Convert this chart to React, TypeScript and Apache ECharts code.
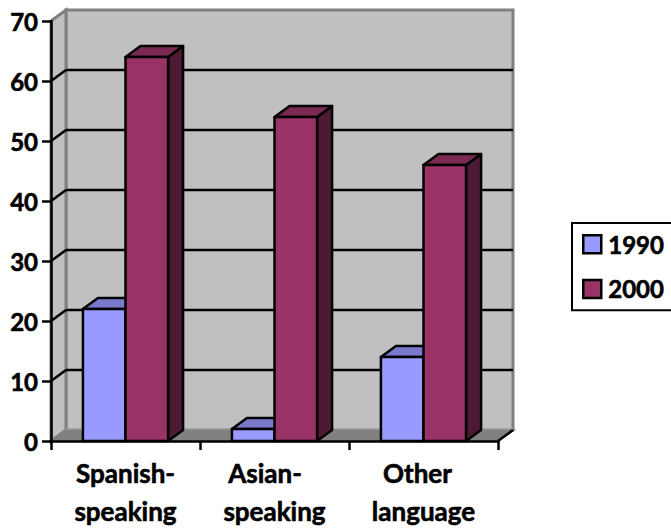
import React, { useEffect, useRef } from "react";
import * as echarts from "echarts";

const categories = ["Spanish-\nspeaking", "Asian-   \nspeaking", "Other  \nlanguage"];
const values1990 = [22, 2, 14];
const values2000 = [64, 54, 46];
const yTicks = [0, 10, 20, 30, 40, 50, 60, 70];

const DX = 15;
const DY = -11;
const FONT = "Lato, 'Open Sans', sans-serif";
const LW = 2.5;

function barSeries(name: string, values: number[], side: number, front: string, top: string, dark: string) {
  return {
    name,
    type: "custom",
    z: 2 + side,
    clip: false,
    itemStyle: { color: front },
    encode: { x: 0, y: 1 },
    data: values.map((v, i) => [i, v]),
    renderItem: (_p: any, api: any) => {
      const c = api.coord([api.value(0), api.value(1)]);
      const b = api.coord([api.value(0), 0]);
      const w = api.size([1, 0])[0] / 3.5;
      const x0 = c[0] + (side === 0 ? -w : 0);
      const x1 = x0 + w;
      const y0 = c[1];
      const y1 = b[1];
      const stroke = { stroke: "#000", lineWidth: LW, lineJoin: "round" };
      return {
        type: "group",
        children: [
          { type: "polygon", shape: { points: [[x1, y0], [x1 + DX, y0 + DY], [x1 + DX, y1 + DY], [x1, y1]] }, style: { fill: dark, ...stroke } },
          { type: "polygon", shape: { points: [[x0, y0], [x0 + DX, y0 + DY], [x1 + DX, y0 + DY], [x1, y0]] }, style: { fill: top, ...stroke } },
          { type: "rect", shape: { x: x0, y: y0, width: w, height: y1 - y0 }, style: { fill: front, ...stroke } },
        ],
      };
    },
  };
}

const wallSeries = {
  type: "custom",
  z: 1,
  clip: false,
  silent: true,
  legendHoverLink: false,
  encode: { y: 0 },
  data: yTicks.map((v) => [v]),
  renderItem: (p: any, api: any) => {
    const v = api.value(0);
    const sys = p.coordSys;
    const L = sys.x;
    const R = sys.x + sys.width;
    const T = sys.y;
    const B = sys.y + sys.height;
    const y = api.coord([0, v])[1];
    const children: any[] = [];
    const gray = { stroke: "#808080", lineWidth: 3 };
    if (v === 0) {
      children.push(
        { type: "rect", shape: { x: L + DX, y: T + DY, width: R - L, height: B - T }, style: { fill: "#C0C0C0", ...gray } },
        { type: "polygon", shape: { points: [[L, T], [L + DX, T + DY], [L + DX, B + DY], [L, B]] }, style: { fill: "#C0C0C0", ...gray } },
        { type: "polygon", shape: { points: [[L, B], [L + DX, B + DY], [R + DX, B + DY], [R, B]] }, style: { fill: "#808080", stroke: "#808080", lineWidth: 2 } },
        { type: "line", shape: { x1: L + DX, y1: B + DY - 1, x2: R + DX, y2: B + DY - 1 }, style: { stroke: "#A8A8A8", lineWidth: 1 } },
        { type: "line", shape: { x1: R, y1: B, x2: R + DX, y2: B + DY }, style: { stroke: "#000", lineWidth: LW } },
      );
    } else if (v < 70) {
      children.push(
        { type: "line", shape: { x1: L + DX, y1: y + DY, x2: R + DX, y2: y + DY }, style: { stroke: "#000", lineWidth: LW } },
        { type: "line", shape: { x1: L, y1: y, x2: L + DX, y2: y + DY }, style: { stroke: "#000", lineWidth: LW } },
      );
    }
    return { type: "group", children };
  },
};

const heavy = { fontFamily: FONT, fontWeight: "bold", color: "#000", textBorderColor: "#000", textBorderWidth: 0.6 };

export default function App() {
  const ref = useRef<HTMLDivElement>(null);
  useEffect(() => {
    document.body.style.margin = "0";
    const chart = echarts.init(ref.current!, null, { renderer: "svg" });
    chart.setOption({
      animation: false,
      backgroundColor: "#fff",
      grid: { left: 51, right: 173, top: 21, height: 420, containLabel: false, outerBoundsMode: "none" },
      legend: {
        left: 572,
        top: 223,
        orient: "vertical",
        data: ["1990", "2000"],
        itemWidth: 18,
        itemHeight: 18,
        itemGap: 20,
        padding: [9, 40, 9, 10],
        borderColor: "#000",
        borderWidth: 2,
        backgroundColor: "#fff",
        selectedMode: false,
        textStyle: { ...heavy, fontSize: 24, padding: [0, 0, 0, 2] },
        itemStyle: { borderColor: "#000", borderWidth: 2.5 },
        icon: "rect",
      },
      xAxis: {
        type: "category",
        data: categories,
        z: 6,
        axisLine: { lineStyle: { color: "#000", width: LW } },
        axisTick: { show: true, length: 9, lineStyle: { color: "#000", width: LW } },
        axisLabel: { ...heavy, fontSize: 26, lineHeight: 38, margin: 13, interval: 0 },
        splitLine: { show: false },
      },
      yAxis: {
        type: "value",
        min: 0,
        max: 70,
        interval: 10,
        z: 6,
        axisLine: { show: true, lineStyle: { color: "#000", width: LW } },
        axisTick: { show: true, length: 9, lineStyle: { color: "#000", width: LW } },
        axisLabel: { ...heavy, fontSize: 24, margin: 13 },
        splitLine: { show: false },
      },
      series: [
        wallSeries,
        barSeries("1990", values1990, 0, "#9999FF", "#7A7ACC", "#4D4D80"),
        barSeries("2000", values2000, 1, "#993366", "#7A2952", "#4D1A33"),
      ],
    });
    return () => chart.dispose();
  }, []);
  return <div ref={ref} style={{ position: "absolute", left: 0, top: 0, width: 671, height: 529 }} />;
}
